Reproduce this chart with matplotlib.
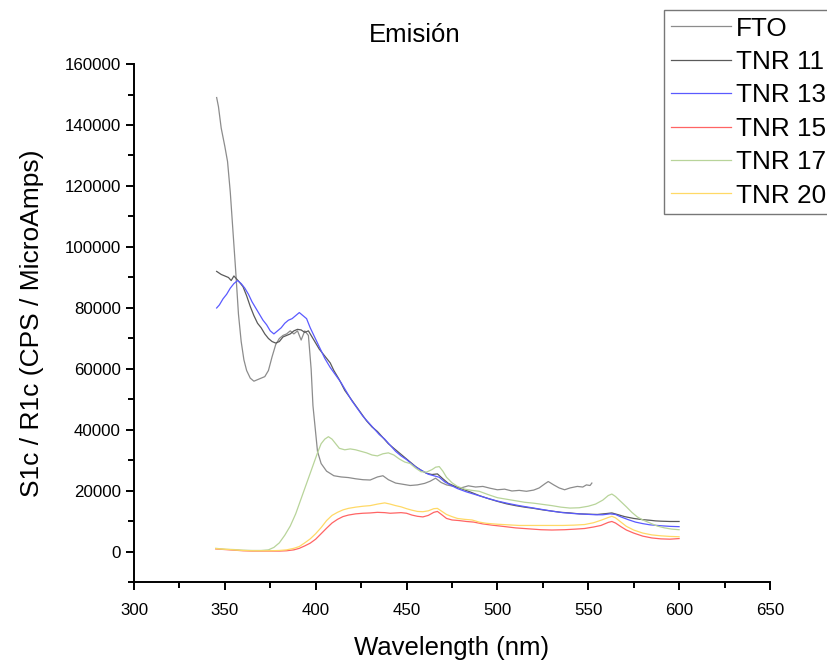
import matplotlib.pyplot as plt
import numpy as np

plt.rcParams['font.family'] = ['Liberation Sans', 'DejaVu Sans']

# FTO
x_fto = [345.5, 346.5, 348, 350, 351.5, 353, 354.5, 356, 357.5, 359, 360.5, 362, 364, 366, 368, 370,
         372, 374, 376, 378, 380, 382, 384, 386, 388, 390, 392, 394, 396, 397.5, 398.5, 400, 401,
         403, 406, 410, 414, 418, 422, 426, 430, 434, 437, 440, 444, 448, 452, 456, 460, 463, 466,
         469, 472, 476, 480, 484, 488, 492, 496, 500, 504, 508, 512, 516, 520, 523, 526, 528, 531,
         534, 537, 540, 544, 547, 549, 551, 552]
y_fto = [149000, 146000, 139000, 133000, 128000, 118000, 105000, 92000, 78000, 69000, 63000, 59500,
         57000, 56000, 56500, 57000, 57500, 59500, 64000, 68000, 70000, 71000, 71500, 72500, 71500,
         72500, 69500, 72500, 71000, 60000, 48000, 39000, 33000, 29000, 26500, 25000, 24600, 24400,
         24000, 23700, 23600, 24600, 25000, 23700, 22600, 22200, 21800, 22000, 22500, 23200, 24200,
         22800, 22000, 21500, 21000, 21700, 21300, 21500, 20900, 20400, 20600, 20000, 20200, 19900,
         20300, 21000, 22300, 23100, 22000, 21000, 20400, 21000, 21500, 21300, 22000, 21800, 22600]

# TNR 11
x_11 = [345.5, 348, 350, 352, 353.5, 355, 356.5, 358, 360, 362, 364, 366, 368, 370, 372, 374, 376,
        378, 380, 382, 384, 386, 388, 390, 392, 394, 396, 398, 400, 402, 404, 406, 408, 410, 413,
        416, 419, 422, 425, 428, 431, 434, 437, 440, 443, 446, 449, 452, 455, 458, 461, 464, 467,
        470, 473, 476, 480, 485, 490, 495, 500, 505, 510, 515, 520, 525, 530, 535, 540, 545, 550,
        555, 560, 563, 566, 570, 575, 580, 584, 587, 590, 595, 600]
y_11 = [92000, 91000, 90500, 90000, 89000, 90500, 89500, 88500, 87000, 84000, 80500, 77500, 75000,
        73500, 71500, 70000, 69000, 68500, 69000, 70500, 71000, 71500, 72500, 73000, 72800, 72000,
        72500, 70500, 68500, 66500, 65000, 63500, 62000, 59500, 56500, 53000, 50500, 48000, 45500,
        43000, 41000, 39500, 37500, 35500, 34000, 32500, 31000, 29500, 28000, 26800, 25800, 25400,
        25600, 24000, 22500, 21700, 20800, 19700, 18500, 17500, 16600, 15800, 15200, 14700, 14300,
        13800, 13400, 13000, 12800, 12500, 12400, 12300, 12600, 12800, 12300, 11600, 11000, 10600,
        10400, 10200, 10100, 10000, 10000]

# TNR 13
x_13 = [345.5, 347, 349, 351, 353, 355, 357, 359, 361, 363, 365, 367, 369, 371, 373, 375, 377, 379,
        381, 383, 385, 387, 389, 391, 393, 395, 397, 399, 401, 403, 405, 408, 411, 414, 417, 420,
        423, 426, 429, 432, 435, 438, 441, 444, 447, 450, 453, 456, 459, 462, 465, 468, 471, 474,
        478, 483, 488, 494, 500, 506, 512, 518, 524, 530, 536, 542, 548, 554, 558, 562, 565, 568,
        572, 576, 580, 584, 590, 595, 600]
y_13 = [80000, 81000, 83000, 84500, 86500, 88000, 89000, 88000, 86500, 84500, 82000, 80000, 78000,
        76000, 74500, 72500, 71500, 72500, 73500, 75000, 76000, 76500, 77500, 78500, 77500, 76500,
        73500, 71000, 68500, 66000, 63500, 60500, 58000, 55500, 52500, 49500, 47000, 44500, 42500,
        40500, 38500, 37000, 35000, 33000, 31500, 30300, 28800, 27500, 26500, 25500, 25000, 24500,
        23000, 22000, 20800, 19700, 18800, 17700, 16700, 15900, 15200, 14600, 14000, 13400, 12900,
        12600, 12400, 12200, 12200, 12500, 12300, 11500, 10600, 9800, 9300, 8900, 8600, 8400, 8300]

# TNR 15
x_15 = [345, 350, 355, 360, 365, 370, 375, 380, 384, 388, 391, 394, 397, 400, 403, 406, 409, 412,
        415, 418, 422, 426, 430, 434, 438, 441, 444, 447, 450, 453, 456, 459, 462, 465, 467, 469,
        472, 475, 479, 483, 487, 492, 497, 503, 510, 517, 524, 530, 537, 543, 548, 553, 557, 561,
        563, 565, 568, 571, 575, 580, 585, 590, 595, 600]
y_15 = [1000, 800, 600, 400, 300, 300, 300, 300, 400, 700, 1200, 2000, 2900, 4200, 6000, 7800, 9500,
        10700, 11600, 12100, 12500, 12700, 12800, 13000, 12900, 12700, 12800, 12900, 12700, 12100,
        11700, 11500, 12000, 13000, 13300, 12400, 11000, 10500, 10300, 10000, 9800, 9200, 8800,
        8400, 7900, 7600, 7300, 7200, 7300, 7500, 7700, 8200, 8700, 9700, 10000, 9500, 8300, 7200,
        6200, 5200, 4600, 4300, 4200, 4400]

# TNR 17
x_17 = [345, 350, 355, 360, 365, 370, 374, 377, 380, 383, 386, 389, 392, 395, 398, 401, 403, 405,
        407, 409, 411, 413, 416, 419, 422, 425, 428, 431, 434, 437, 440, 443, 446, 449, 452, 455,
        458, 461, 464, 466, 468, 470, 472, 475, 478, 482, 486, 490, 495, 500, 505, 510, 515, 520,
        525, 530, 535, 540, 545, 550, 554, 558, 561, 563, 565, 568, 571, 574, 577, 580, 584, 588,
        592, 596, 600]
y_17 = [1200, 900, 800, 600, 500, 500, 700, 1500, 3000, 5500, 8500, 12500, 17500, 22500, 27500,
        32500, 35500, 37000, 37800, 37000, 35500, 34000, 33500, 33800, 33500, 33000, 32500, 31800,
        31500, 32200, 32500, 31800, 30500, 29500, 29000, 27500, 26300, 26200, 27000, 27800, 28000,
        26500, 24500, 22700, 21500, 20600, 20200, 19900, 18800, 17800, 17300, 16800, 16300, 16000,
        15600, 15200, 14700, 14400, 14500, 15000, 15700, 17000, 18500, 19000, 18200, 16500, 14800,
        13000, 11500, 10500, 9500, 8500, 7900, 7500, 7300]

# TNR 20
x_20 = [345, 350, 355, 360, 365, 370, 375, 380, 384, 388, 391, 394, 397, 400, 403, 406, 409, 412,
        415, 418, 422, 426, 430, 434, 438, 441, 444, 447, 450, 453, 456, 459, 462, 465, 467, 469,
        472, 475, 478, 482, 486, 490, 494, 500, 506, 512, 518, 524, 530, 536, 542, 548, 553, 557,
        561, 563, 565, 568, 571, 575, 580, 585, 590, 595, 600]
y_20 = [1100, 900, 700, 500, 400, 400, 400, 500, 700, 1200, 1800, 3000, 4300, 6000, 8000, 10300,
        12000, 13000, 13800, 14300, 14700, 15000, 15200, 15700, 16100, 15700, 15200, 14800, 14200,
        13700, 13300, 13200, 13500, 14200, 14300, 13500, 12300, 11600, 11000, 10700, 10500, 9800,
        9400, 9100, 8900, 8700, 8700, 8700, 8700, 8700, 8800, 9000, 9600, 10400, 11300, 11700,
        11200, 9800, 8400, 7200, 6200, 5600, 5300, 5100, 5000]

series = [("FTO", x_fto, y_fto, '#8c8c8c'),
          ("TNR 11", x_11, y_11, '#5a5a5a'),
          ("TNR 13", x_13, y_13, '#5a5aff'),
          ("TNR 15", x_15, y_15, '#ff6464'),
          ("TNR 17", x_17, y_17, '#b8d49a'),
          ("TNR 20", x_20, y_20, '#ffd966')]

fig = plt.figure(figsize=(8.27, 6.66), dpi=100)
ax = fig.add_axes([0.162, 0.1254, 0.769, 0.7785])

for name, xs, ys, c in series:
    ax.plot(xs, ys, color=c, lw=0.9, label=name)

ax.set_xlim(300, 650)
ax.set_ylim(-10000, 160000)
ax.set_xticks(np.arange(300, 651, 50))
ax.set_xticks(np.arange(325, 650, 50), minor=True)
ax.set_yticks(np.arange(0, 160001, 20000))
ax.set_yticks(np.arange(-10000, 160000, 20000), minor=True)

for s in ['top', 'right']:
    ax.spines[s].set_visible(False)
for s in ['left', 'bottom']:
    ax.spines[s].set_linewidth(1.4)
ax.tick_params(which='major', direction='out', length=6, width=1.4, labelsize=12.2)
ax.tick_params(axis='x', which='major', pad=9)
ax.tick_params(which='minor', direction='out', length=4, width=1.4)

ax.set_xlabel("Wavelength (nm)", fontsize=18.5, labelpad=13)
ax.set_ylabel("S1c / R1c (CPS / MicroAmps)", fontsize=19, labelpad=15)
fig.text(415/827, 1-35/666, "Emisión", fontsize=18.5, ha='center', va='center')

leg = fig.legend(loc='upper left', bbox_to_anchor=(664/827, 1-10/666), fontsize=18.8,
                 frameon=True, fancybox=False, handlelength=2.3, handletextpad=0.22,
                 labelspacing=0.36, borderpad=0.25, borderaxespad=0)
leg.get_frame().set_edgecolor('#555555')
leg.get_frame().set_linewidth(1.0)

plt.savefig("out.png", dpi=100)
